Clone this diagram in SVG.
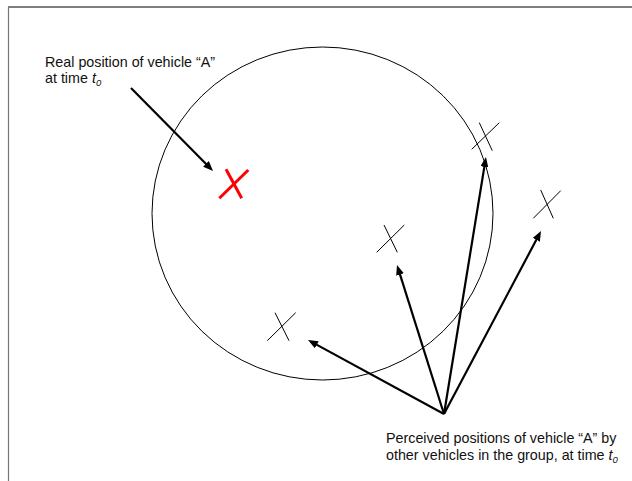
<svg xmlns="http://www.w3.org/2000/svg" width="632" height="481" viewBox="0 0 632 481">
<style>
  text { font-family: "Liberation Sans", Arial, sans-serif; font-size: 14.3px; fill: #111; }
  .sub { font-size: 9.5px; font-style: italic; }
  .it { font-style: italic; }
  .cross { stroke: #000; stroke-width: 1; fill: none; }
  .arrow { stroke: #000; stroke-width: 2.2; fill: none; marker-end: url(#ah); }
</style>
<defs>
  <marker id="ah" viewBox="0 0 10 8" refX="4" refY="4" markerWidth="10" markerHeight="8" markerUnits="userSpaceOnUse" orient="auto">
    <path d="M0,0 L10,4 L0,8 z" fill="#000"/>
  </marker>
</defs>
<rect width="632" height="481" fill="#fff"/>
<g id="frame">
  <line x1="8" y1="7" x2="632" y2="7" stroke="#000" stroke-width="1.2"/>
  <line x1="8.5" y1="7" x2="8.5" y2="481" stroke="#777" stroke-width="1.2"/>
</g>
<g id="group-circle">
  <ellipse cx="322.5" cy="213.5" rx="170.5" ry="166.5" fill="none" stroke="#000" stroke-width="1"/>
</g>
<g id="real-position">
  <line x1="219.3" y1="198.3" x2="248.3" y2="170" stroke="#f00" stroke-width="3"/>
  <line x1="226" y1="169.3" x2="241.7" y2="198.3" stroke="#f00" stroke-width="3"/>
</g>
<g id="perceived-1" class="cross">
  <line x1="267.3" y1="340.7" x2="295.7" y2="312.7"/>
  <line x1="275" y1="312.7" x2="289" y2="340.7"/>
</g>
<g id="perceived-2" class="cross">
  <line x1="376.7" y1="252.3" x2="404.3" y2="225"/>
  <line x1="384" y1="225" x2="397.3" y2="252.3"/>
</g>
<g id="perceived-3" class="cross">
  <line x1="471.7" y1="149.3" x2="499.3" y2="122.7"/>
  <line x1="479.3" y1="122.7" x2="492.3" y2="150.7"/>
</g>
<g id="perceived-4" class="cross">
  <line x1="533.3" y1="218.3" x2="560.7" y2="190.7"/>
  <line x1="540.7" y1="190" x2="553.3" y2="218.3"/>
</g>
<g id="connectors">
  <line class="arrow" x1="131" y1="88" x2="208.8" y2="166.7"/>
  <line class="arrow" x1="444" y1="414" x2="313.3" y2="342.9"/>
  <line class="arrow" x1="444" y1="414" x2="398.8" y2="270.7"/>
  <line class="arrow" x1="444" y1="414" x2="485" y2="162.9"/>
  <line class="arrow" x1="444" y1="414" x2="538.2" y2="236.3"/>
</g>
<g id="label-real">
  <text x="45" y="67">Real position of vehicle “A”</text>
  <text x="45" y="83">at time <tspan class="it">t</tspan><tspan class="sub" dy="2.5">0</tspan></text>
</g>
<g id="label-perceived">
  <text x="386" y="443">Perceived positions of vehicle “A” by</text>
  <text x="386" y="460">other vehicles in the group, at time <tspan class="it">t</tspan><tspan class="sub" dy="2.5">0</tspan></text>
</g>
</svg>
